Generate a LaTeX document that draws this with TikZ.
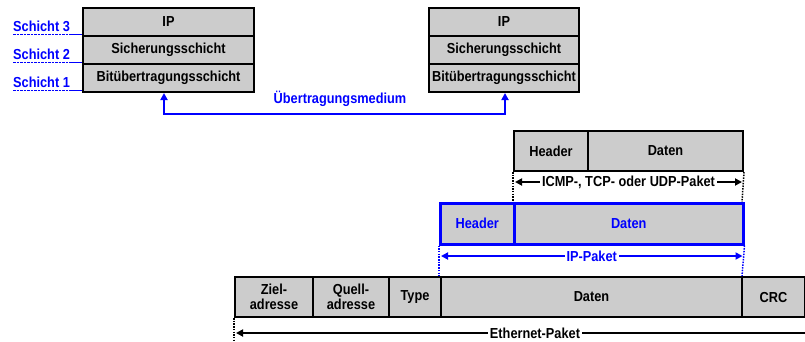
\documentclass[tikz,border=0pt]{standalone}
\usepackage{fontspec}
\setmainfont{Liberation Sans}[FakeStretch=0.88]
\usetikzlibrary{arrows.meta}
\definecolor{cellgray}{RGB}{204,204,204}
\definecolor{netblue}{RGB}{0,0,255}
\begin{document}
\begin{tikzpicture}[x=1pt,y=-1pt,
  font=\fontsize{14.5}{15.5}\selectfont\bfseries,
  cell/.style={draw=black, fill=cellgray, line width=2pt, inner sep=0pt,
    anchor=north west, align=center},
  bluecell/.style={cell, draw=netblue, text=netblue, line width=2.5pt},
  schicht/.style={text=netblue, anchor=south west, inner xsep=0pt, inner ysep=2pt},
  tips/.style={{Triangle[length=7pt,width=7pt]}-{Triangle[length=7pt,width=7pt]}},
  span/.style={line width=2pt, tips},
  guide/.style={line width=1.5pt, dash pattern=on 1.5pt off 1.2pt},
  spanlabel/.style={fill=white, inner xsep=2pt, inner ysep=1pt}
]
\useasboundingbox (0,0) rectangle (805,341);
\clip (0,0) rectangle (805,341);

% protocol stack, left host
\node[cell, minimum width=171pt, minimum height=28pt] (L3) at (82,7)  {IP};
\node[cell, minimum width=171pt, minimum height=28pt] (L2) at (82,35) {Sicherungsschicht};
\node[cell, minimum width=171pt, minimum height=28pt] (L1) at (82,63) {Bitübertragungsschicht};

% protocol stack, right host
\node[cell, minimum width=150pt, minimum height=28pt] (R3) at (428,7)  {IP};
\node[cell, minimum width=150pt, minimum height=28pt] (R2) at (428,35) {Sicherungsschicht};
\node[cell, minimum width=150pt, minimum height=28pt] (R1) at (428,63) {Bitübertragungsschicht};

% layer labels
\foreach \n/\y/\row in {3/35/L3, 2/63/L2, 1/91/L1}{
  \node[schicht] (S\n) at (13,\y-1) {Schicht \n};
  \draw[netblue, line width=1pt, dash pattern=on 2.5pt off 1pt] (S\n.south west) -- (S\n.south east);
  \draw[netblue, line width=1pt] (S\n.south east) -- (S\n.south east -| \row.south west);
}

% transmission medium
\draw[netblue, line width=2pt, tips]
  ([xshift=-4.5pt]L1.south) -- ++(0,21) -| ([xshift=1pt]R1.south);
\node[text=netblue] (med) at (340,99) {Übertragungsmedium};

% transport layer packet
\node[cell, minimum width=74pt,  minimum height=40pt] (TH) at (513,130) {Header};
\node[cell, minimum width=155pt, minimum height=40pt] (TD) at (587,130) {Daten};
\coordinate (TL) at (513,202);
\coordinate (TR) at (742,202);
\draw[guide] (TH.south west) -- (TL);
\draw[guide] (TD.south east) -- (TR);
\draw[span] ([xshift=2pt]TH.south west |- 0,182) -- ([xshift=-2pt]TD.south east |- 0,182)
  node[spanlabel, midway] (tl) {ICMP-, TCP- oder UDP-Paket};

% IP packet
\node[bluecell, minimum width=74pt,  minimum height=41pt] (IH) at (439,202) {Header};
\node[bluecell, minimum width=229pt, minimum height=41pt] (ID) at (513,202) {Daten};
\coordinate (IL) at (439,276);
\coordinate (IR) at (742,276);
\draw[guide, netblue] (IH.south west) -- (IL);
\draw[guide, netblue] (ID.south east) -- (IR);
\draw[span, netblue] ([xshift=2pt]IH.south west |- 0,256) -- ([xshift=-2pt]ID.south east |- 0,256)
  node[spanlabel, midway, text=netblue] (il) {IP-Paket};

% Ethernet frame
\node[cell, minimum width=78pt,  minimum height=40pt] (E1) at (234,276) {Ziel-\\adresse};
\node[cell, minimum width=76pt,  minimum height=40pt] (E2) at (312,276) {Quell-\\adresse};
\node[cell, minimum width=52pt,  minimum height=40pt] (E3) at (388,276) {Type};
\node[cell, minimum width=301pt, minimum height=40pt] (E4) at (440,276) {Daten};
\node[cell, minimum width=63pt,  minimum height=40pt] (E5) at (741,276) {CRC};
\coordinate (EL) at (234,341);
\coordinate (ER) at (836,333);
\draw[guide] (E1.south west) -- (EL);
\draw[line width=2pt, tips] ([xshift=2pt]E1.south west |- 0,333) -- (ER);
\node[spanlabel] (el) at (535,333) {Ethernet-Paket};
\end{tikzpicture}
\end{document}
